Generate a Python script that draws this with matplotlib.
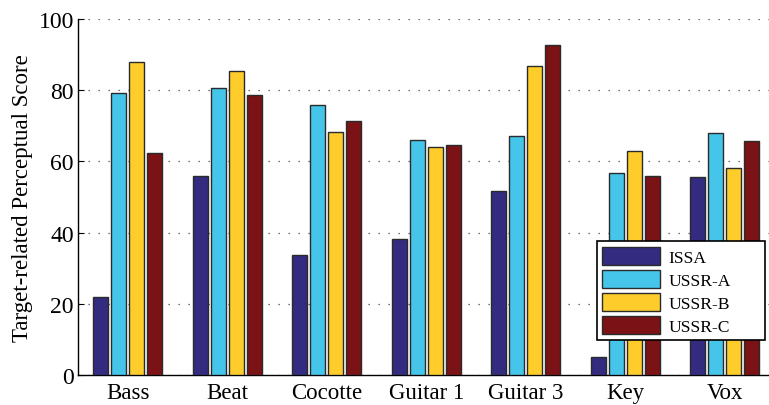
import numpy as np
import matplotlib.pyplot as plt

plt.rcParams['font.family'] = ['Liberation Serif', 'DejaVu Serif']

# Data
categories = ['Bass', 'Beat', 'Cocotte', 'Guitar 1', 'Guitar 3', 'Key', 'Vox']
series = ['ISSA', 'USSR-A', 'USSR-B', 'USSR-C']
issa = [22.0, 56.0, 33.8, 38.2, 51.8, 5.0, 55.7]
ussr_a = [79.3, 80.6, 75.8, 65.9, 67.0, 56.8, 68.1]
ussr_b = [87.9, 85.3, 68.3, 63.9, 86.9, 62.9, 58.1]
ussr_c = [62.4, 78.7, 71.3, 64.5, 92.8, 56.0, 65.6]
colors = ['#332b80', '#45c5e9', '#fecd2b', '#7a1216']

fig = plt.figure(figsize=(7.69, 4.06), dpi=100)
ax = fig.add_axes([0.1014, 0.0739, 0.9057, 0.877])

x = np.arange(1, len(categories) + 1)
offsets = [-0.27, -0.09, 0.09, 0.27]
for vals, name, col, off in zip([issa, ussr_a, ussr_b, ussr_c], series, colors, offsets):
    ax.bar(x + off, vals, width=0.15, color=col, edgecolor='#2a2a2a',
           linewidth=1.0, label=name, zorder=3)

ax.set_xlim(0.5, 7.5)
ax.set_ylim(0, 100)
ax.set_xticks(x)
ax.set_xticklabels(categories, fontsize=16.5)
ax.set_yticks([0, 20, 40, 60, 80, 100])
ax.tick_params(axis='y', labelsize=17, direction='in', length=4, pad=3)
ax.tick_params(axis='x', direction='in', length=0, pad=5)
ax.set_ylabel('Target-related Perceptual Score', fontsize=16.5, labelpad=4)

ax.yaxis.grid(True, linestyle=(0, (1, 7)), color='#444444', linewidth=0.9, zorder=0)
ax.spines['top'].set_visible(False)
ax.spines['right'].set_visible(False)
ax.spines['left'].set_linewidth(1.0)
ax.spines['bottom'].set_linewidth(1.0)

# legend box spans the same region as in the reference
leg = ax.legend(loc='lower left', mode='expand',
                bbox_to_anchor=(597 / 769, 65 / 406, 168 / 769, 98 / 406),
                bbox_transform=fig.transFigure, fontsize=12.6, frameon=True,
                framealpha=1, fancybox=False, handlelength=3.3, handleheight=1.25,
                handletextpad=0.5, labelspacing=0.22, borderpad=0.3,
                borderaxespad=0)
leg.get_frame().set_edgecolor('black')
leg.get_frame().set_linewidth(1.2)
leg.set_zorder(5)

fig.savefig('out.png', dpi=100)
